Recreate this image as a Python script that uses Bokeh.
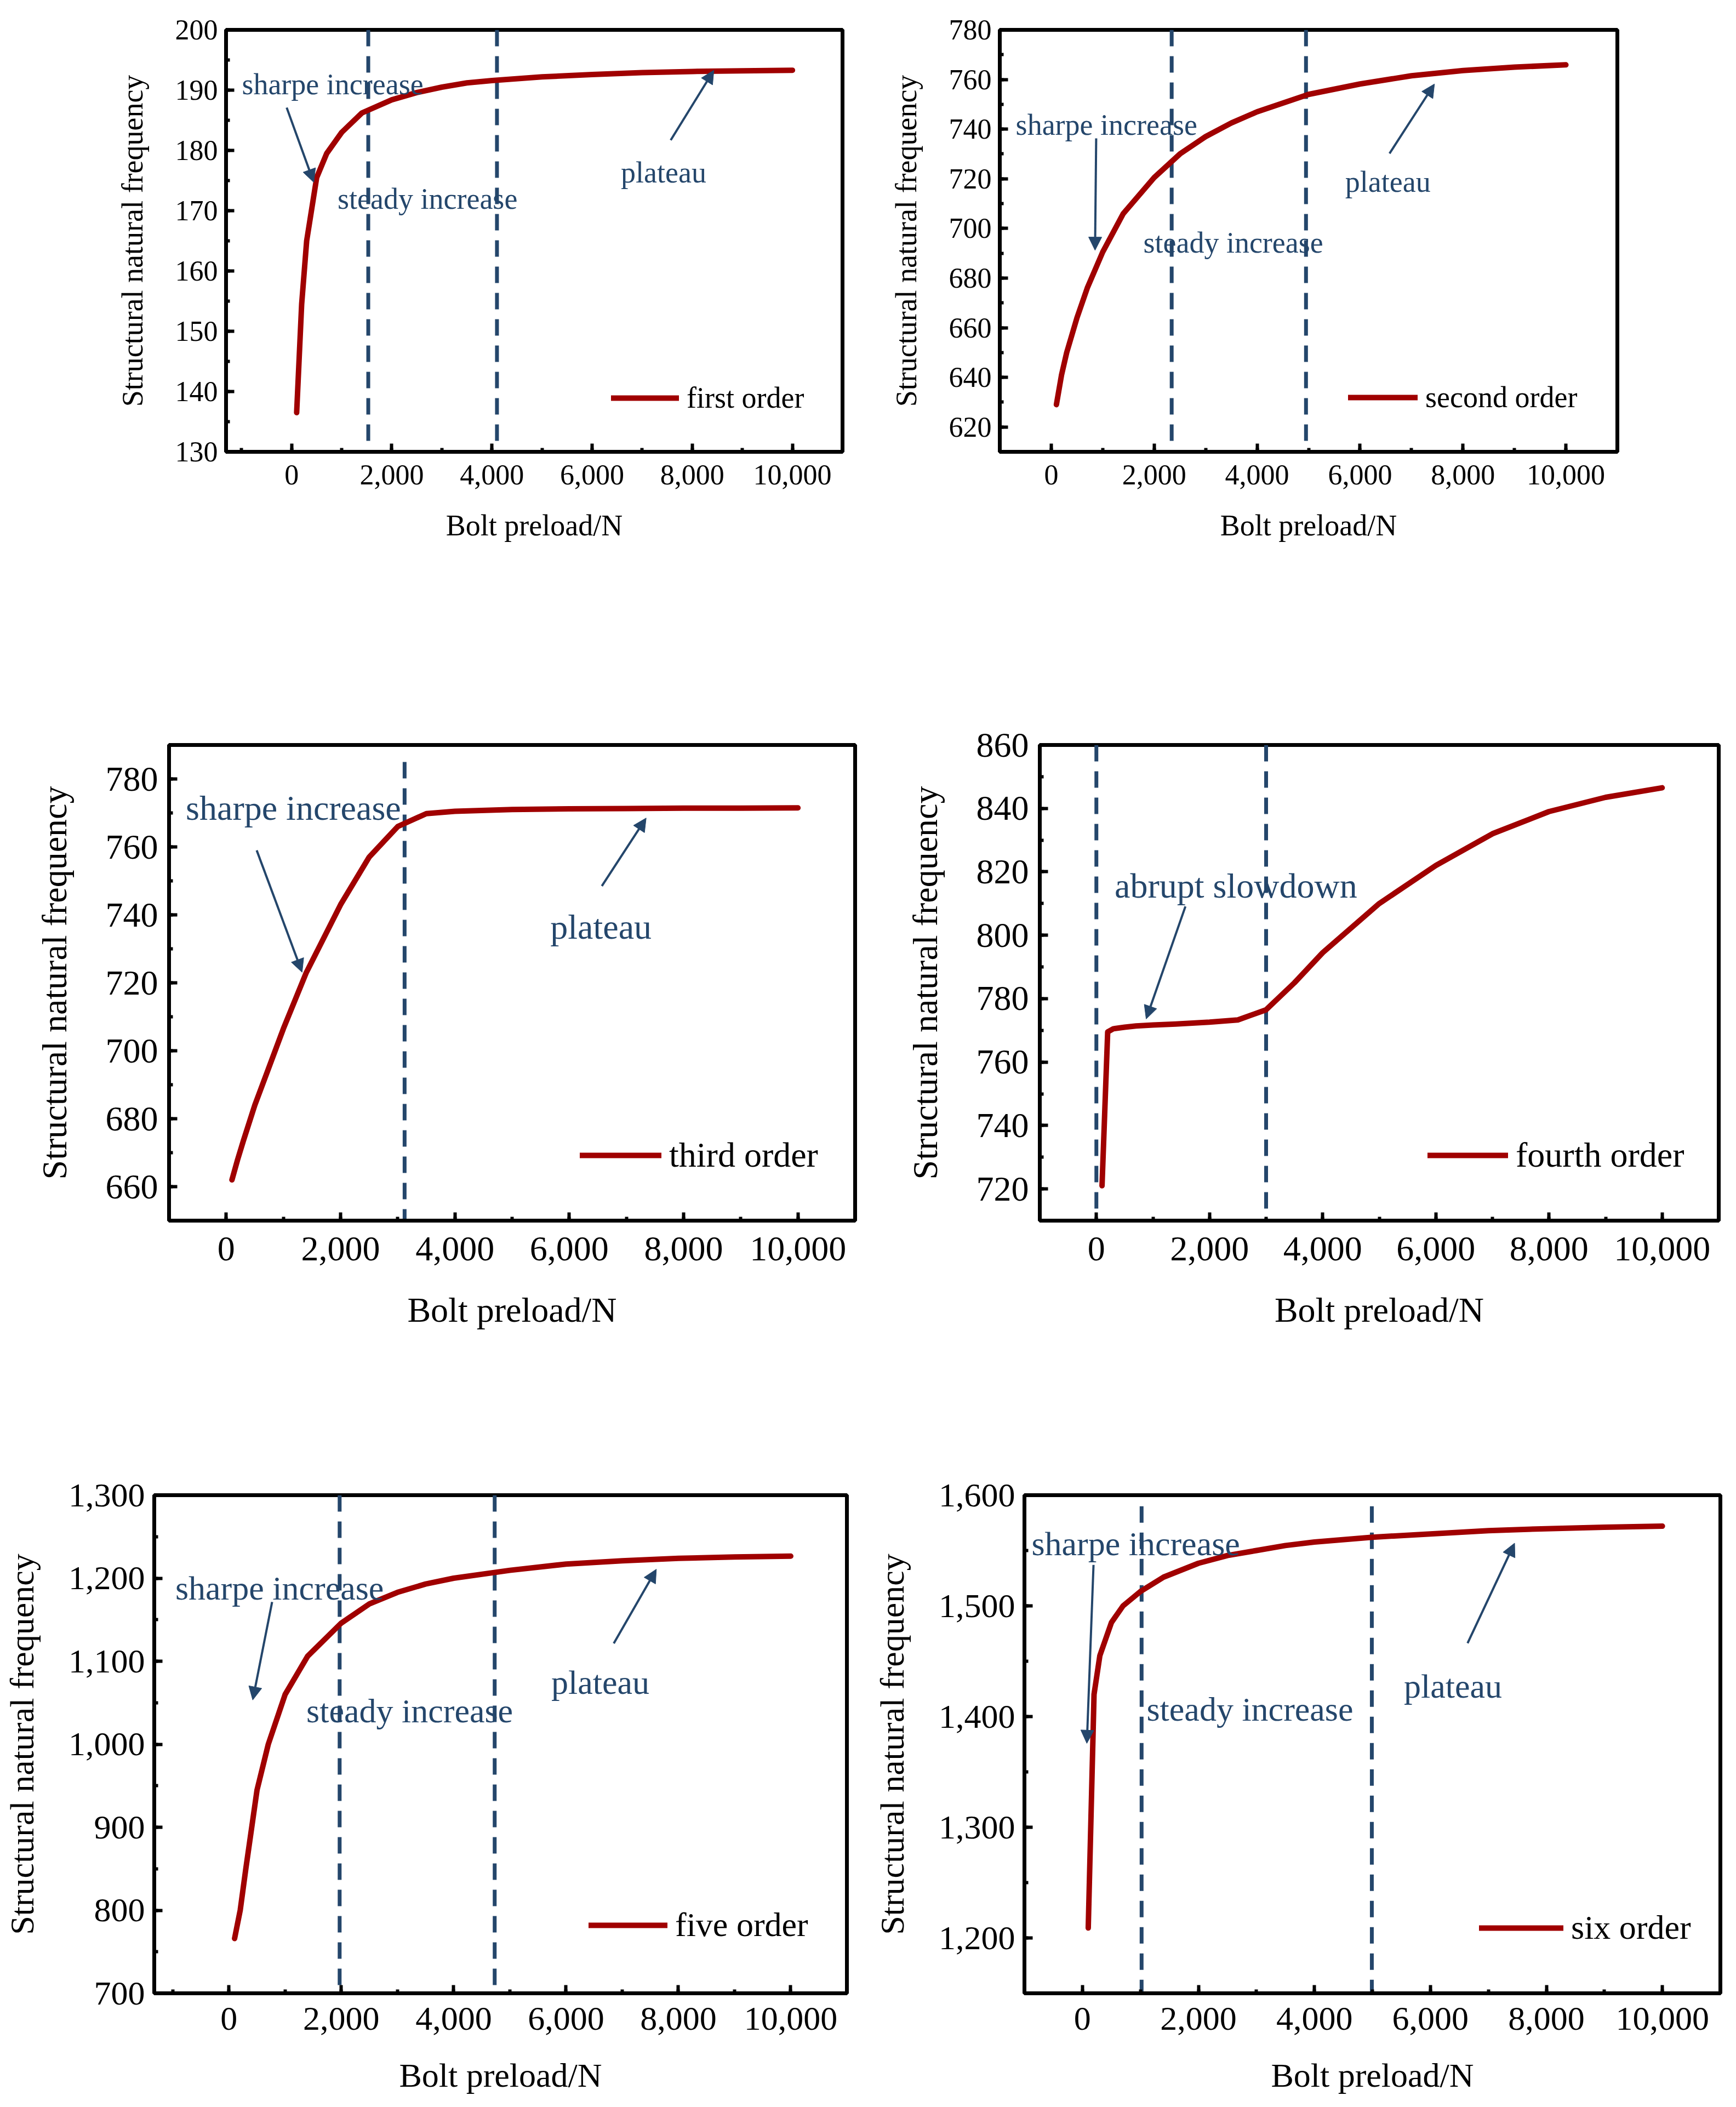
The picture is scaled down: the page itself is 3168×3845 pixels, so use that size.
from bokeh.plotting import figure
from bokeh.layouts import column, row
from bokeh.models import (Label, Arrow, NormalHead, Legend, LegendItem, Range1d,
                          SingleIntervalTicker, NumeralTickFormatter)
from bokeh.embed import file_html
from bokeh.resources import INLINE

FONT = "Liberation Serif"
RED = "#a00000"
BLUE = "#24466b"

# bolt preload (N), shared by every order
preload = [100, 200, 300, 500, 700, 1000, 1400, 2000, 2500, 3000,
           3500, 4000, 5000, 6000, 7000, 8000, 9000, 10000]

# structural natural frequency
freq_first = [136.5, 154.5, 165.0, 175.5, 179.5, 183.0, 186.2, 188.4, 189.6, 190.5,
              191.2, 191.6, 192.2, 192.6, 192.9, 193.1, 193.2, 193.3]
freq_second = [629, 641, 650, 664, 676, 690.5, 706, 720.5, 730, 737,
               742.5, 747, 754, 758.2, 761.5, 763.6, 765, 765.9]
freq_third = [662, 668, 673.5, 684, 693, 706.5, 723, 743, 757, 766,
              769.8, 770.5, 771, 771.2, 771.3, 771.4, 771.4, 771.5]
freq_fourth = [721, 769.5, 770.5, 771, 771.4, 771.7, 772, 772.6, 773.3, 776.5,
               785, 794.5, 810, 822, 832, 839, 843.5, 846.5]
freq_five = [766, 800, 850, 945, 1000, 1060, 1106, 1146, 1169, 1183,
             1193, 1200, 1209.5, 1217, 1221, 1224, 1225.5, 1226.5]
freq_six = [1209, 1420, 1455, 1485, 1500, 1513, 1526, 1538.5, 1545.5, 1550,
            1554.5, 1557.7, 1562, 1565, 1568, 1569.7, 1571, 1572]

order_names = ["first order", "second order", "third order",
               "fourth order", "five order", "six order"]

# stage boundaries (dashed lines), x in N, top end in frequency units
stage_bounds = [[1530, 4100], [2340, 4950], [3120], [0, 3000], [1970, 4730], [1020, 4990]]
stage_tops = [200, 780, 785, 860, 1300, 1590]

y_ranges = [(130, 200), (610, 780), (650, 790), (710, 860), (700, 1300), (1150, 1600)]
x_starts = [-1310, -1000, -1000, -1000, -1330, -1000]
y_steps = [10, 20, 20, 20, 100, 100]

# stage captions: (text, x, y)
captions = [
    [("sharpe increase", -994, 191.0), ("steady increase", 917, 172.0), ("plateau", 6575, 176.3)],
    [("sharpe increase", -690, 741.7), ("steady increase", 1789, 694.3), ("plateau", 5711, 718.7)],
    [("sharpe increase", -707, 771.4), ("plateau", 5669, 736.5)],
    [("abrupt slowdown", 323, 815.6)],
    [("sharpe increase", -955, 1188), ("steady increase", 1378, 1040), ("plateau", 5738, 1074.3)],
    [("sharpe increase", -878, 1556), ("steady increase", 1107, 1406.5), ("plateau", 5544, 1427.7)],
]
# caption arrows: (x_start, y_start, x_end, y_end)
pointers = [
    [(-99, 187.1, 442, 174.7), (7569, 181.7, 8431, 193.3)],
    [(873, 736.3, 851, 691.2), (6573, 730.2, 7446, 758.2)],
    [(533, 759.0, 1327, 723.1), (6570, 748.5, 7345, 768.5)],
    [(1574, 809.1, 880, 773.6)],
    [(768, 1171.4, 423, 1053.3), (6850, 1121.5, 7608, 1210.8)],
    [(191, 1537, 76, 1375.8), (6641, 1466.3, 7452, 1556.7)],
]

series = [freq_first, freq_second, freq_third, freq_fourth, freq_five, freq_six]

# layout: fig width, fig height, borders (l, r, t, b), font sizes (tick, text), standoffs
layout_cfg = [
    dict(w=1588, h=1148, b=(412, 51, 54, 324), ft=52, fx=54, ys=15, xs=24, yl=45, xl=42,
         leg=(703, 67, 124)),
    dict(w=1572, h=1148, b=(236, 209, 54, 322), ft=52, fx=54, ys=15, xs=24, yl=45, xl=42,
         leg=(636, 68, 127)),
    dict(w=1588, h=1450, b=(308, 28, 211, 371), ft=64, fx=64, ys=20, xs=30, yl=55, xl=52,
         leg=(750, 82, 149)),
    dict(w=1572, h=1450, b=(309, 24, 210, 370), ft=64, fx=64, ys=20, xs=30, yl=55, xl=52,
         leg=(708, 82, 147)),
    dict(w=1588, h=1230, b=(281, 43, 130, 191), ft=62, fx=62, ys=17, xs=26, yl=48, xl=46,
         leg=(793, 89, 144)),
    dict(w=1572, h=1230, b=(281, 21, 130, 191), ft=62, fx=62, ys=17, xs=26, yl=48, xl=46,
         leg=(830, 84, 154)),
]


def make_panel(i):
    c = layout_cfg[i]
    bl, br, bt, bb = c["b"]
    p = figure(width=c["w"], height=c["h"], output_backend="svg", toolbar_location=None,
               x_range=Range1d(x_starts[i], 11000), y_range=Range1d(*y_ranges[i]),
               min_border_left=bl, min_border_right=br, min_border_top=bt,
               min_border_bottom=bb)
    p.xgrid.grid_line_color = None
    p.ygrid.grid_line_color = None
    p.outline_line_color = "black"
    p.outline_line_width = 7
    p.background_fill_color = "white"
    p.border_fill_color = "white"

    p.xaxis.ticker = SingleIntervalTicker(interval=2000, num_minor_ticks=2)
    p.yaxis.ticker = SingleIntervalTicker(interval=y_steps[i], num_minor_ticks=2)
    p.xaxis.formatter = NumeralTickFormatter(format="0,0")
    p.yaxis.formatter = NumeralTickFormatter(format="0,0")
    p.xaxis.axis_label = "Bolt preload/N"
    p.yaxis.axis_label = "Structural natural frequency"
    for ax in (p.xaxis, p.yaxis):
        ax.axis_line_width = 7
        ax.axis_line_color = "black"
        ax.major_tick_in = 15
        ax.major_tick_out = 0
        ax.minor_tick_in = 7
        ax.minor_tick_out = 0
        ax.major_tick_line_width = 6
        ax.minor_tick_line_width = 6
        ax.major_label_text_font = FONT
        ax.major_label_text_font_size = f"{c['ft']}px"
        ax.major_label_text_color = "black"
        ax.axis_label_text_font = FONT
        ax.axis_label_text_font_size = f"{c['fx']}px"
        ax.axis_label_text_font_style = "normal"
        ax.axis_label_text_color = "black"
    p.yaxis.major_label_standoff = c["ys"]
    p.xaxis.major_label_standoff = c["xs"]
    p.yaxis.axis_label_standoff = c["yl"]
    p.xaxis.axis_label_standoff = c["xl"]

    lo = y_ranges[i][0] - 5
    for bx in stage_bounds[i]:
        p.segment(x0=bx, y0=stage_tops[i], x1=bx, y1=lo, line_color=BLUE,
                  line_width=7, line_dash="30 18")

    r = p.line(preload, series[i], line_color=RED, line_width=10,
               line_join="round", line_cap="round")

    for txt, tx, ty in captions[i]:
        p.add_layout(Label(x=tx, y=ty, text=txt, text_font=FONT,
                           text_font_size=f"{c['fx']}px", text_color=BLUE,
                           text_baseline="alphabetic"))
    for xs, ys, xe, ye in pointers[i]:
        p.add_layout(Arrow(end=NormalHead(size=24, fill_color=BLUE, line_color=BLUE,
                                          line_width=1),
                           x_start=xs, y_start=ys, x_end=xe, y_end=ye,
                           line_color=BLUE, line_width=4))

    lx, ly, gw = c["leg"]
    legend = Legend(items=[LegendItem(label=order_names[i], renderers=[r])],
                    location=(lx, ly), glyph_width=gw, glyph_height=60,
                    label_height=60, label_standoff=14, padding=0, margin=0,
                    spacing=0, border_line_color=None, background_fill_alpha=0,
                    label_text_font=FONT, label_text_font_size=f"{c['fx']}px",
                    label_text_color="black")
    p.add_layout(legend)
    return p


panels = [make_panel(i) for i in range(6)]
page = column(row(panels[0], panels[1]), row(panels[2], panels[3]),
              row(panels[4], panels[5]))

open("out.html", "w").write(file_html(page, INLINE))
